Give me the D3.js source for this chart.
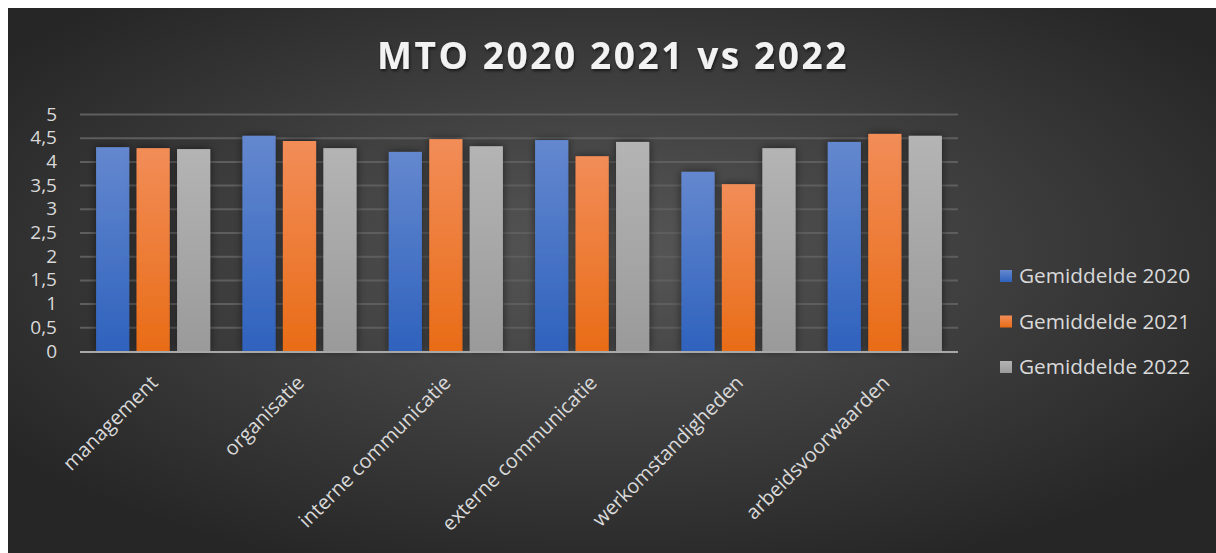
<!DOCTYPE html>
<html>
<head>
<meta charset="utf-8">
<script src="https://cdn.jsdelivr.net/npm/d3@7"></script>
<style>
  html, body { margin: 0; padding: 0; background: #fff; }
  svg { display: block; font-family: "Open Sans", sans-serif; }
</style>
</head>
<body>
<svg id="chart" width="1216" height="553"></svg>
<script>
const categories = ["management", "organisatie", "interne communicatie", "externe communicatie", "werkomstandigheden", "arbeidsvoorwaarden"];
const seriesNames = ["Gemiddelde 2020", "Gemiddelde 2021", "Gemiddelde 2022"];
const values2020 = [4.30, 4.54, 4.20, 4.45, 3.78, 4.41];
const values2021 = [4.28, 4.43, 4.47, 4.11, 3.52, 4.58];
const values2022 = [4.26, 4.28, 4.32, 4.41, 4.28, 4.54];
const yTicks = [0, 0.5, 1, 1.5, 2, 2.5, 3, 3.5, 4, 4.5, 5];
const title = "MTO 2020 2021 vs 2022";

const seriesValues = [values2020, values2021, values2022];
// top / bottom colours of each series gradient
const seriesColors = [["#6488cf", "#2f62bd"], ["#f28d58", "#e96c17"], ["#b4b4b4", "#9a9a9a"]];

const svg = d3.select("#chart");
const W = 1216, H = 553;
const margin = { left: 80, right: 258, top: 114, bottom: 202 };
const font = "Open Sans, sans-serif";

const defs = svg.append("defs");

// Background: dark radial gradient
const bg = defs.append("radialGradient").attr("id", "bg")
  .attr("cx", "50%").attr("cy", "45%").attr("r", "62%");
bg.append("stop").attr("offset", "0%").attr("stop-color", "#575757");
bg.append("stop").attr("offset", "100%").attr("stop-color", "#262626");

seriesColors.forEach((c, i) => {
  const g = defs.append("linearGradient").attr("id", "grad" + i)
    .attr("x1", 0).attr("y1", 0).attr("x2", 0).attr("y2", 1);
  g.append("stop").attr("offset", "0%").attr("stop-color", c[0]);
  g.append("stop").attr("offset", "100%").attr("stop-color", c[1]);
});

const shadow = defs.append("filter").attr("id", "shadow")
  .attr("x", "-30%").attr("y", "-10%").attr("width", "160%").attr("height", "120%");
shadow.append("feDropShadow").attr("dx", 0).attr("dy", 0).attr("stdDeviation", 4)
  .attr("flood-color", "#000").attr("flood-opacity", 0.55);

const tshadow = defs.append("filter").attr("id", "tshadow")
  .attr("x", "-10%").attr("y", "-30%").attr("width", "120%").attr("height", "160%");
tshadow.append("feDropShadow").attr("dx", 1).attr("dy", 2).attr("stdDeviation", 1.5)
  .attr("flood-color", "#000").attr("flood-opacity", 0.6);

svg.append("rect").attr("x", 8).attr("y", 8).attr("width", W - 8).attr("height", H - 8)
  .attr("fill", "url(#bg)");

// Title
svg.append("text")
  .attr("x", 613).attr("y", 69)
  .attr("text-anchor", "middle")
  .attr("font-size", 37).attr("font-weight", 700)
  .attr("letter-spacing", 2.6)
  .attr("fill", "#f2f2f2")
  .attr("filter", "url(#tshadow)")
  .text(title);

const plotW = W - margin.left - margin.right;
const plotH = H - margin.top - margin.bottom;
const g = svg.append("g").attr("transform", `translate(${margin.left},${margin.top})`);

const x0 = d3.scaleBand().domain(categories).range([0, plotW]).paddingInner(0.22).paddingOuter(0.11);
const x1 = d3.scaleBand().domain(d3.range(3)).range([0, x0.bandwidth()]).paddingInner(0.18).paddingOuter(0);
const y = d3.scaleLinear().domain([0, 5]).range([plotH, 0]);

// Gridlines
g.append("g")
  .call(d3.axisLeft(y).tickValues(yTicks.filter(d => d > 0)).tickSize(-plotW).tickFormat(""))
  .call(s => s.select(".domain").remove())
  .call(s => s.selectAll("line").attr("stroke", "#5e5e5e").attr("stroke-width", 2));

// Y axis labels
g.append("g")
  .call(d3.axisLeft(y).tickValues(yTicks).tickSize(0).tickPadding(23)
    .tickFormat(d => String(d).replace(".", ",")))
  .call(s => s.select(".domain").remove())
  .call(s => s.selectAll("text").attr("fill", "#d9d9d9").attr("font-size", 19)
    .attr("font-family", font));

// Bars
const groups = g.selectAll(".cat").data(categories).join("g")
  .attr("class", "cat")
  .attr("transform", d => `translate(${x0(d)},0)`);

groups.selectAll("rect")
  .data((d, ci) => seriesValues.map((vals, si) => ({ si, v: vals[ci] })))
  .join("rect")
  .attr("x", d => x1(d.si))
  .attr("y", d => y(d.v))
  .attr("width", x1.bandwidth())
  .attr("height", d => plotH - y(d.v))
  .attr("fill", d => `url(#grad${d.si})`)
  .attr("filter", "url(#shadow)");

// Baseline
g.append("line")
  .attr("x1", 0).attr("x2", plotW)
  .attr("y1", y(0) + 1).attr("y2", y(0) + 1)
  .attr("stroke", "#a8a8a8").attr("stroke-width", 2);

// X axis labels rotated
g.append("g")
  .attr("transform", `translate(0,${plotH})`)
  .call(d3.axisBottom(x0).tickSize(0).tickPadding(0))
  .call(s => s.select(".domain").remove())
  .call(s => s.selectAll("text")
    .attr("fill", "#d9d9d9").attr("font-size", 20)
    .attr("font-family", font)
    .attr("text-anchor", "end")
    .attr("dy", 0)
    .attr("transform", "translate(6,33) rotate(-45)"));

// Legend
const legend = svg.append("g").attr("transform", "translate(1000,276)");
seriesNames.forEach((name, i) => {
  const row = legend.append("g").attr("transform", `translate(0,${i * 45.5})`);
  row.append("rect").attr("x", 0).attr("y", -6).attr("width", 12).attr("height", 12)
    .attr("fill", `url(#grad${i})`);
  row.append("text").attr("x", 19).attr("y", 0).attr("dy", "0.35em")
    .attr("fill", "#d9d9d9").attr("font-size", 20.8)
    .text(name);
});
</script>
</body>
</html>
